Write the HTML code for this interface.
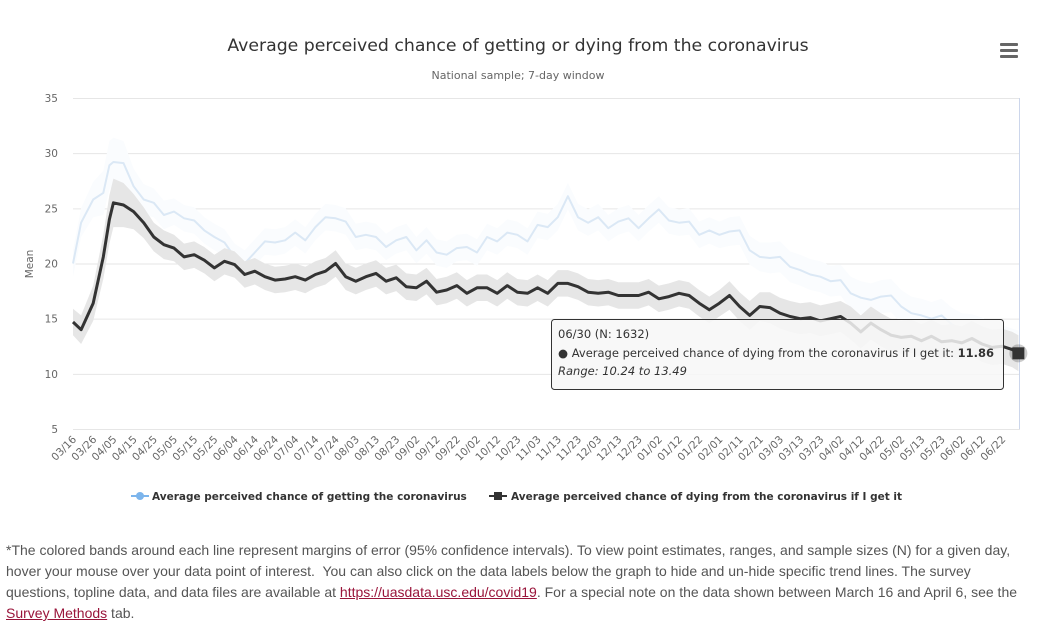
<!DOCTYPE html>
<html><head><meta charset="utf-8">
<style>
html,body{margin:0;padding:0;background:#fff;width:1037px;height:641px;overflow:hidden}
#note{position:absolute;left:6px;top:540px;width:1030px;font:14px/21px "Liberation Sans",sans-serif;color:#555;white-space:nowrap}
#note a{color:#99143a;text-decoration:underline}
</style></head><body>
<svg id="chart" width="1037" height="530" style="position:absolute;left:0;top:0" font-family="DejaVu Sans, sans-serif">
<text x="518" y="51" text-anchor="middle" font-size="17.3" fill="#333">Average perceived chance of getting or dying from the coronavirus</text>
<text x="518" y="79" text-anchor="middle" font-size="11" fill="#666">National sample; 7-day window</text>
<g fill="#666"><rect x="1000" y="43" width="18" height="3" rx="1"/><rect x="1000" y="49" width="18" height="3" rx="1"/><rect x="1000" y="55" width="18" height="3" rx="1"/></g>
<text transform="translate(33,264) rotate(-90)" text-anchor="middle" font-size="10.5" fill="#666">Mean</text>
<g id="grid"></g><g id="xlab"></g>
<g id="series"></g>
<line x1="1019.5" x2="1019.5" y1="98" y2="429" stroke="#ccd6eb" stroke-width="1"/>
<g>
<g><line x1="131" x2="149" y1="496" y2="496" stroke="#7cb5ec" stroke-width="2"/><circle cx="140" cy="496" r="4" fill="#7cb5ec"/><text x="152" y="500" font-size="10.5" font-weight="bold" fill="#333">Average perceived chance of getting the coronavirus</text></g>
<g><line x1="489" x2="507" y1="496" y2="496" stroke="#333" stroke-width="2"/><rect x="494" y="492" width="8" height="8" fill="#333"/><text x="511" y="500" font-size="10.5" font-weight="bold" fill="#333">Average perceived chance of dying from the coronavirus if I get it</text></g>
</g>
<g>
<rect x="551.5" y="319.5" width="452" height="70" rx="3" fill="#f7f7f7" fill-opacity="0.85" stroke="#333" stroke-width="1"/>
<text x="558" y="338" font-size="11.5" fill="#333">06/30 (N: 1632)</text>
<text x="558" y="357" font-size="11.5" fill="#333">● Average perceived chance of dying from the coronavirus if I get it: <tspan font-weight="bold">11.86</tspan></text>
<text x="558" y="375" font-size="11.5" font-style="italic" fill="#333">Range: 10.24 to 13.49</text>
</g>
<g id="marker"></g>
</svg>
<div id="note">*The colored bands around each line represent margins of error (95% confidence intervals). To view point estimates, ranges, and sample sizes (N) for a given day,<br>hover your mouse over your data point of interest.&nbsp; You can also click on the data labels below the graph to hide and un-hide specific trend lines. The survey<br>questions, topline data, and data files are available at <a>https://uasdata.usc.edu/covid19</a>. For a special note on the data shown between March 16 and April 6, see the<br><a>Survey Methods</a> tab.</div>
<script>
const dayIndex=[0,4,10,15,18,20,25,30,35,40,45,50,55,60,65,70,75,80,85,90,95,100,105,110,115,120,125,130,135,140,145,150,155,160,165,170,175,180,185,190,195,200,205,210,215,220,225,230,235,240,245,250,255,260,265,270,275,280,285,290,295,300,305,310,315,320,325,330,335,340,345,350,355,360,365,370,375,380,385,390,395,400,405,410,415,420,425,430,435,440,445,450,455,460,465,468];
const gettingVals=[20.0,23.7,25.8,26.4,28.9,29.2,29.1,27.0,25.8,25.5,24.4,24.7,24.1,23.9,23.0,22.4,21.9,20.6,20.0,21.0,22.0,21.9,22.1,22.8,22.1,23.3,24.2,24.1,23.8,22.4,22.6,22.4,21.5,22.1,22.4,21.2,22.1,21.0,20.8,21.4,21.5,21.0,22.4,22.0,22.8,22.6,22.0,23.5,23.3,24.2,26.1,24.2,23.7,24.2,23.2,23.8,24.1,23.2,24.1,24.9,23.9,23.7,23.8,22.6,23.0,22.6,22.9,23.0,21.2,20.6,20.5,20.6,19.7,19.4,19.0,18.8,18.4,18.5,17.3,16.9,16.7,17.0,17.1,16.1,15.5,15.3,15.0,15.3,14.5,14.0,13.8,13.5,13.0,12.8,12.5,12.3];
const dyingVals=[14.7,14.0,16.4,20.6,24.0,25.5,25.3,24.7,23.7,22.4,21.7,21.4,20.6,20.8,20.3,19.6,20.2,19.9,19.0,19.3,18.8,18.5,18.6,18.8,18.5,19.0,19.3,20.0,18.8,18.4,18.8,19.1,18.4,18.7,17.9,17.8,18.4,17.4,17.6,18.0,17.3,17.8,17.8,17.3,18.0,17.4,17.3,17.8,17.3,18.2,18.2,17.9,17.4,17.3,17.4,17.1,17.1,17.1,17.4,16.8,17.0,17.3,17.1,16.4,15.8,16.4,17.1,16.1,15.3,16.1,16.0,15.5,15.2,15.0,15.1,14.8,15.0,15.2,14.6,13.8,14.6,14.0,13.5,13.3,13.4,13.0,13.4,12.9,13.0,12.8,13.2,12.7,12.4,12.5,12.2,11.86];
const dyingMargin=[1.2,1.3,1.6,2.0,2.2,2.2,2.0,1.6,1.4,1.3,1.3,1.2,1.2,1.2,1.2,1.2,1.2,1.2,1.2,1.2,1.2,1.2,1.2,1.2,1.2,1.2,1.2,1.2,1.2,1.2,1.2,1.2,1.2,1.2,1.2,1.2,1.2,1.2,1.2,1.2,1.2,1.2,1.2,1.2,1.2,1.2,1.2,1.2,1.2,1.2,1.2,1.2,1.2,1.2,1.2,1.2,1.2,1.2,1.2,1.2,1.2,1.2,1.2,1.2,1.2,1.2,1.3,1.3,1.3,1.3,1.4,1.4,1.4,1.4,1.4,1.4,1.4,1.4,1.5,1.5,1.5,1.5,1.5,1.5,1.5,1.5,1.5,1.5,1.5,1.5,1.6,1.6,1.6,1.6,1.6,1.63];
const xTickLabels=["03/16","03/26","04/05","04/15","04/25","05/05","05/15","05/25","06/04","06/14","06/24","07/04","07/14","07/24","08/03","08/13","08/23","09/02","09/12","09/22","10/02","10/12","10/23","11/03","11/13","11/23","12/03","12/13","12/23","01/02","01/12","01/22","02/01","02/11","02/21","03/03","03/13","03/23","04/02","04/12","04/22","05/02","05/13","05/23","06/02","06/12","06/22"];
const yTicks=[5,10,15,20,25,30,35];
const NS='http://www.w3.org/2000/svg';
const X0=73,PX=2.02,Y0=429,PY=11.033;
const xs=d=>X0+d*PX, ys=v=>Y0-(v-5)*PY;
function mk(t,a,p){const e=document.createElementNS(NS,t);for(const k in a)e.setAttribute(k,a[k]);p.appendChild(e);return e;}
const grid=document.getElementById('grid');
yTicks.forEach(v=>{
 const l=mk('line',{x1:X0,x2:1020,y1:ys(v)+0.5,y2:ys(v)+0.5,stroke:'#e6e6e6'},grid);
 
 
 const t=mk('text',{x:58,y:ys(v)+4,'text-anchor':'end','font-size':10.5,fill:'#666'},grid);
 t.textContent=v;
 
 
});
const xl=document.getElementById('xlab');
xTickLabels.forEach((s,i)=>{
 const x=xs(i*10)+4, y=440;
 const t=mk('text',{x:x,y:y,'text-anchor':'end','font-size':10.5,fill:'#666',transform:`rotate(-45 ${x} ${y})`},xl);
 t.textContent=s;
 
 
});
const g=document.getElementById('series');
function band(vals,marg,fill){
 let d='M'+dayIndex.map((di,i)=>xs(di).toFixed(1)+','+ys(vals[i]+marg[i]).toFixed(1)).join('L');
 for(let i=dayIndex.length-1;i>=0;i--)d+='L'+xs(dayIndex[i]).toFixed(1)+','+ys(vals[i]-marg[i]).toFixed(1);
 return mk('path',{d:d+'Z',fill:fill,stroke:'none'},g);
}
function line(vals,stroke,w){
 const d='M'+dayIndex.map((di,i)=>xs(di).toFixed(1)+','+ys(vals[i]).toFixed(1)).join('L');
 return mk('path',{d:d,fill:'none',stroke:stroke,'stroke-width':w,'stroke-linejoin':'round'},g);
}
const gb=band(gettingVals,dyingMargin,'#fafcfe');


const gl=line(gettingVals,'#dbe8f5',2);


const db=band(dyingVals,dyingMargin,'#e6e6e6');


const dl=line(dyingVals,'#333',3);


const mg=document.getElementById('marker');
const last=dayIndex.length-1, mx=xs(dayIndex[last]), my=ys(dyingVals[last]);
const halo=mk('circle',{cx:mx,cy:my,r:9,fill:'#333','fill-opacity':0.25},mg);


const sq=mk('rect',{x:mx-6,y:my-6,width:12,height:12,fill:'#333'},mg);


</script>
</body></html>
